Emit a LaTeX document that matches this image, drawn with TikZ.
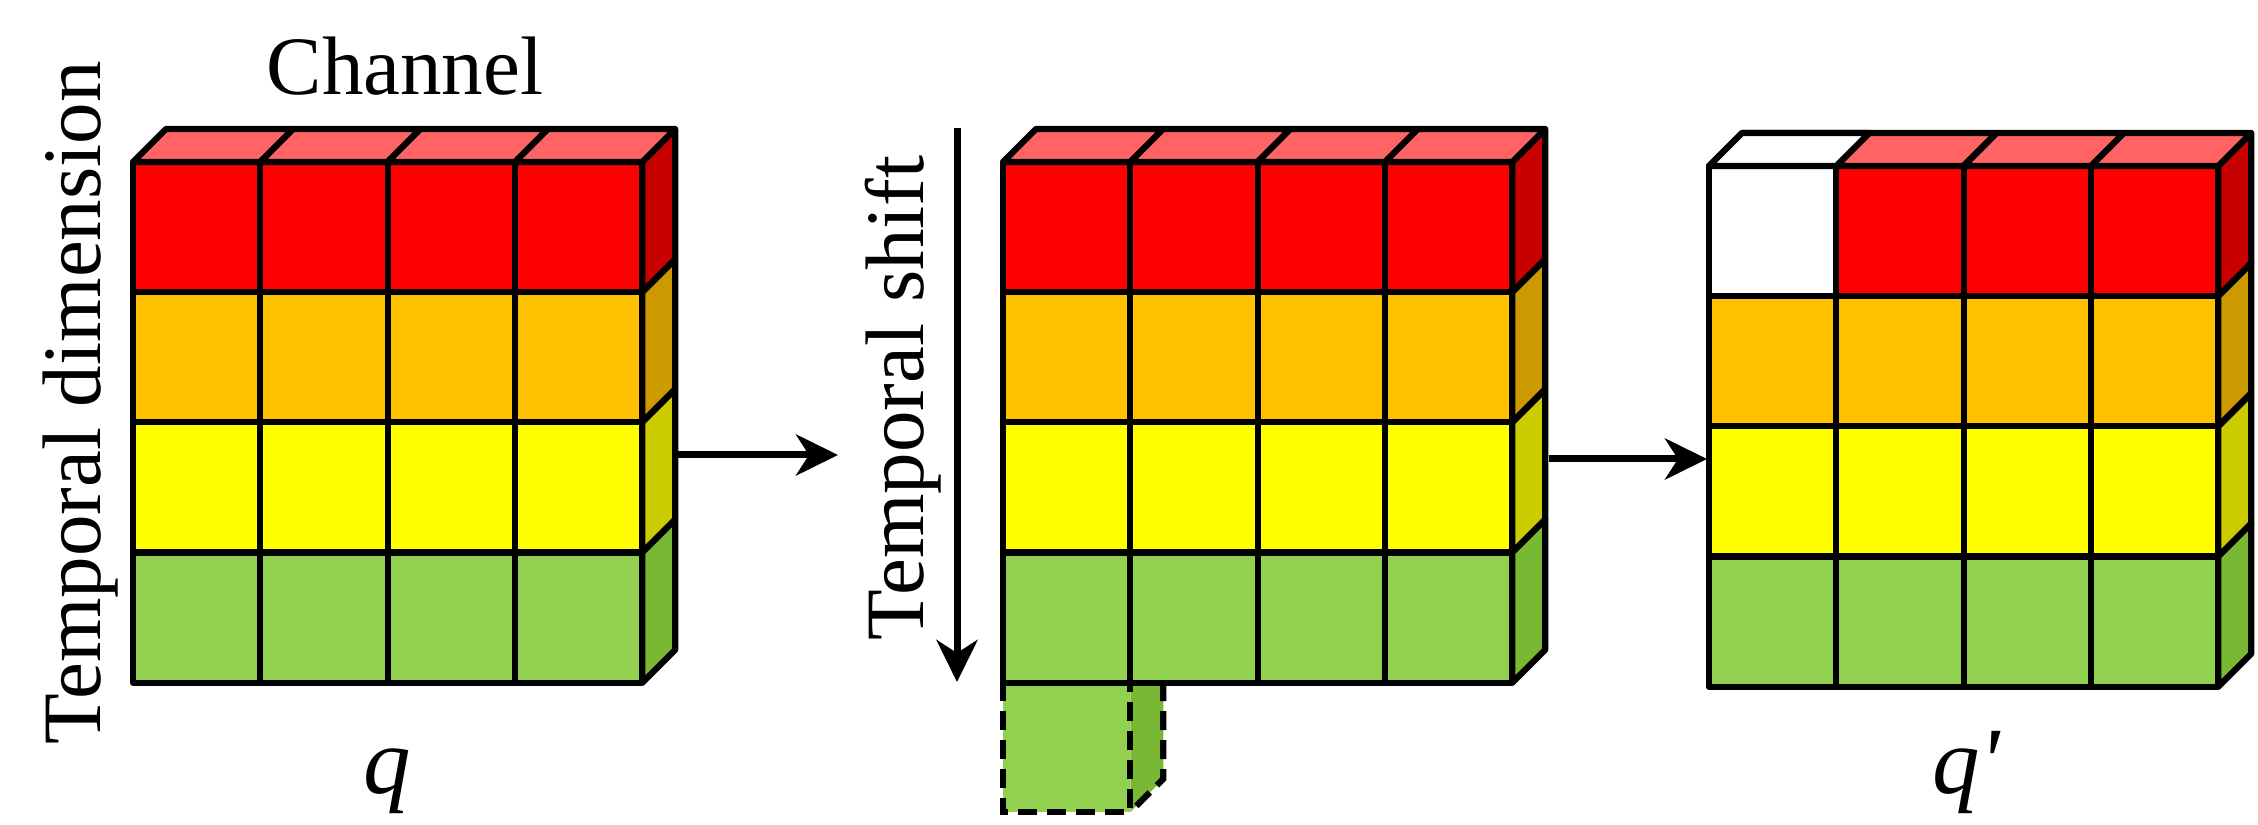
\documentclass[tikz,border=0pt]{standalone}
\usepackage{fontspec}
\setmainfont{Liberation Serif}
\usetikzlibrary{arrows.meta}
\definecolor{cRed}{HTML}{FF0000}
\definecolor{tRed}{HTML}{FF6363}
\definecolor{sRed}{HTML}{C80000}
\definecolor{cOra}{HTML}{FFC000}
\definecolor{sOra}{HTML}{CC9A00}
\definecolor{cYel}{HTML}{FFFF00}
\definecolor{sYel}{HTML}{CCCC00}
\definecolor{cGre}{HTML}{92D050}
\definecolor{sGre}{HTML}{78B832}
\tikzset{
  cell/.style={draw=black, line width=0.62mm, line join=round},
  arr/.style={line width=0.7mm, -{Stealth[length=4.2mm,width=4.1mm,inset=1.3mm]}},
  lbl/.style={font=\fontsize{23.6}{28}\selectfont, inner sep=0pt},
  qlbl/.style={font=\fontsize{27}{32}\selectfont\itshape, inner sep=0pt},
  ghost/.style={draw=black, line width=0.62mm, dash pattern=on 1.9mm off 1.0mm},
}
\newcommand{\tsmblock}[2]{%
  \foreach \r/\fc/\sc in {0/cRed/sRed,1/cOra/sOra,2/cYel/sYel,3/cGre/sGre}{%
    \foreach \c in {0,1,2,3}{%
      \draw[cell, fill=\fc] ({#1+\c*127.3},{#2+\r*130.2}) rectangle ++(127.3,130.2);
    }
    \draw[cell, fill=\sc] ({#1+4*127.3},{#2+\r*130.2}) -- ++(33,-33) -- ++(0,130.2) -- ++(-33,33) -- cycle;
  }
  \foreach \c in {0,1,2,3}{%
    \draw[cell, fill=tRed] ({#1+\c*127.3},#2) -- ++(33,-33) -- ++(127.3,0) -- ++(-33,33) -- cycle;
  }
}
\begin{document}
\begin{tikzpicture}[x=0.01cm,y=-0.01cm]
\useasboundingbox (0,0) rectangle (2258,825);
% block 1
\tsmblock{133}{162}
% ghost cube under block 2
\fill[cGre] (1003,682) rectangle (1130.3,812);
\fill[sGre] (1130.3,682) -- (1163.3,682) -- (1163.3,779) -- (1130.3,812) -- cycle;
\draw[ghost] (1003,682) -- (1003,812) -- (1130.3,812) -- (1130.3,682);
\draw[ghost] (1163.3,682) -- (1163.3,779) -- (1130.3,812);
% block 2
\tsmblock{1003}{162}
% block 3
\tsmblock{1709}{166}
\draw[cell, fill=white] (1709,166) rectangle ++(127.3,130.2);
\draw[cell, fill=white] (1709,166) -- ++(33,-33) -- ++(127.3,0) -- ++(-33,33) -- cycle;
% labels
\node[lbl, anchor=base] (chan) at (405,95) {Channel};
\node[lbl, anchor=base, rotate=90] (tdim) at (100,403) {Temporal dimension};
\node[lbl, anchor=base, rotate=90] (tshift) at (923,398) {Temporal shift};
\node[qlbl, anchor=base] (q1) at (387,793) {q};
\node[qlbl, anchor=base] (q2) at (1966,793) {q\textquotesingle};
% arrows
\coordinate (b1r) at (675,455);
\coordinate (a1) at (838,455);
\coordinate (b2r) at (1549,459);
\coordinate (b3l) at (1707,459);
\coordinate (ts0) at (957,128);
\coordinate (ts1) at (957,682);
\draw[arr] (b1r) -- (a1);
\draw[arr] (b2r) -- (b3l);
\draw[arr] (ts0) -- (ts1);
\end{tikzpicture}
\end{document}
